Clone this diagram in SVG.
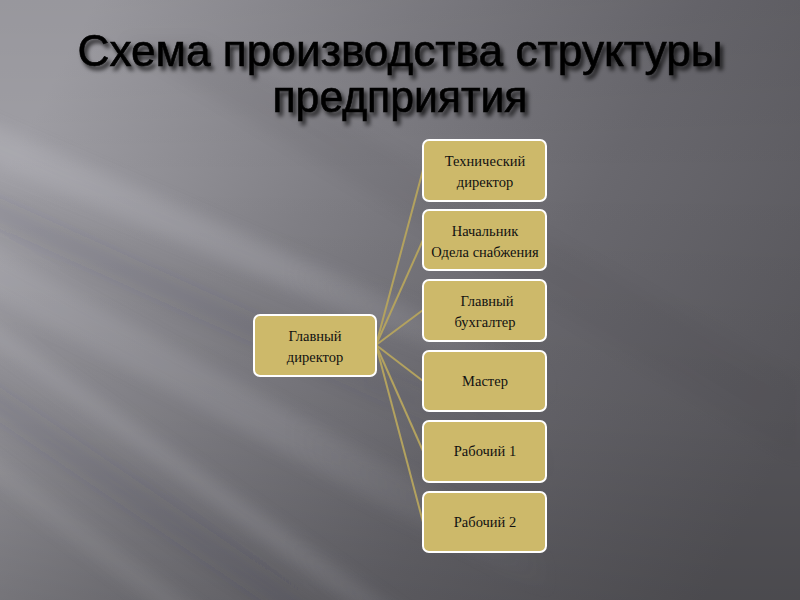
<svg xmlns="http://www.w3.org/2000/svg" width="800" height="600" viewBox="0 0 800 600">
<defs>
<linearGradient id="bg" x1="0" y1="0.3" x2="1" y2="0.7">
<stop offset="0" stop-color="#a09fa5"/>
<stop offset="0.35" stop-color="#807f85"/>
<stop offset="0.65" stop-color="#69686e"/>
<stop offset="1" stop-color="#58575c"/>
</linearGradient>
<linearGradient id="shade" x1="0" y1="0" x2="0" y2="1">
<stop offset="0" stop-color="#000" stop-opacity="0.05"/>
<stop offset="0.3" stop-color="#000" stop-opacity="0"/>
<stop offset="0.7" stop-color="#000" stop-opacity="0.05"/>
<stop offset="1" stop-color="#000" stop-opacity="0.15"/>
</linearGradient>
<linearGradient id="fade" x1="0" y1="0" x2="1" y2="0">
<stop offset="0" stop-color="#fff"/>
<stop offset="0.35" stop-color="#fff"/>
<stop offset="0.7" stop-color="#000"/>
</linearGradient>
<mask id="m"><rect width="800" height="600" fill="url(#fade)"/></mask>
<filter id="sh" x="-10%" y="-30%" width="120%" height="160%">
<feGaussianBlur in="SourceAlpha" stdDeviation="2.2"/>
<feOffset dx="3" dy="4" result="b"/>
<feFlood flood-color="#000" flood-opacity="0.75"/>
<feComposite in2="b" operator="in"/>
<feMerge><feMergeNode/><feMergeNode in="SourceGraphic"/></feMerge>
</filter>
<filter id="blur" x="-20%" y="-20%" width="140%" height="140%"><feGaussianBlur stdDeviation="8"/></filter>
<style>
.node rect{fill:#cdb96a;stroke:#ffffff;stroke-width:2}
.node text{font-family:"Liberation Serif","Times New Roman",serif;font-size:14.5px;fill:#111;text-anchor:middle}
.conn line{stroke:#b3a25f;stroke-width:2}
.title{font-family:"Liberation Sans",Arial,sans-serif;font-size:44px;fill:#000;stroke:#000;stroke-width:0.6;text-anchor:middle}
.lt{fill:#d4d3da}
.dk{fill:#3c3b40}
</style>
</defs>
<rect width="800" height="600" fill="url(#bg)"/>
<rect width="800" height="600" fill="url(#shade)"/>
<g mask="url(#m)">
<g filter="url(#blur)">
<polygon class="lt" points="-40,110 -40,150 600,420 600,390" opacity="0.2"/>
<polygon class="lt" points="-40,230 -40,280 560,600 600,580" opacity="0.14"/>
<polygon class="lt" points="-40,300 -40,320 400,640 440,640" opacity="0.16"/>
<polygon class="lt" points="-40,430 -40,455 200,640 240,640" opacity="0.1"/>
<polygon class="dk" points="-40,180 -40,210 600,500 600,470" opacity="0.1"/>
<polygon class="dk" points="-40,360 -40,395 320,640 370,640" opacity="0.1"/>
</g>
</g>
<polygon points="120,40 200,40 800,380 800,460" fill="#3c3b40" opacity="0.07" filter="url(#blur)"/>
<g filter="url(#sh)">
<text class="title" x="400" y="66" textLength="645" lengthAdjust="spacingAndGlyphs">Схема производства  структуры</text>
<text class="title" x="400" y="112" textLength="255" lengthAdjust="spacingAndGlyphs">предприятия</text>
</g>
<g class="conn">
<line x1="376" y1="345" x2="423" y2="170"/>
<line x1="376" y1="345" x2="423" y2="240"/>
<line x1="376" y1="345" x2="423" y2="310"/>
<line x1="376" y1="345" x2="423" y2="381"/>
<line x1="376" y1="345" x2="423" y2="451"/>
<line x1="376" y1="345" x2="423" y2="522"/>
</g>
<g id="root" class="node"><rect x="254" y="315" width="122" height="61" rx="6"/><text x="315" y="341">Главный</text><text x="315" y="362">директор</text></g>
<g id="n1" class="node"><rect x="423" y="140" width="123" height="61" rx="6"/><text x="485" y="166">Технический</text><text x="485" y="187">директор</text></g>
<g id="n2" class="node"><rect x="423" y="210" width="123" height="60" rx="6"/><text x="485" y="236">Начальник</text><text x="485" y="257">Одела снабжения</text></g>
<g id="n3" class="node"><rect x="423" y="280" width="123" height="61" rx="6"/><text x="487" y="306">Главный</text><text x="485" y="327">бухгалтер</text></g>
<g id="n4" class="node"><rect x="423" y="351" width="123" height="60" rx="6"/><text x="485" y="386">Мастер</text></g>
<g id="n5" class="node"><rect x="423" y="421" width="123" height="61" rx="6"/><text x="485" y="456">Рабочий 1</text></g>
<g id="n6" class="node"><rect x="423" y="492" width="123" height="60" rx="6"/><text x="485" y="527">Рабочий 2</text></g>
</svg>
